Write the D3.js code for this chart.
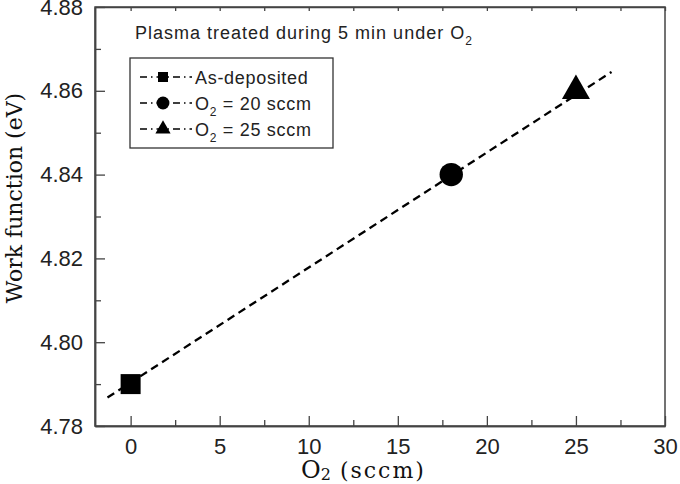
<!DOCTYPE html>
<html>
<head>
<meta charset="utf-8">
<script src="https://cdn.jsdelivr.net/npm/d3@7"></script>
<style>
  html, body { margin: 0; padding: 0; background: #fff; }
  svg { display: block; }
</style>
</head>
<body>
<svg id="chart" width="680" height="484"></svg>
<script>
// data
const o2Flow = [0, 18, 25];
const workFunction = [4.79, 4.84, 4.86];
const markerTypes = ["square", "circle", "triangle"];
// odd indexes are subscripts
const legendLabels = [["As-deposited"], ["O", "2", " = 20 sccm"], ["O", "2", " = 25 sccm"]];
const noteParts = ["Plasma treated during 5 min under O", "2"];
const fitX = [-1.3, 27];
const fitY = [4.7868, 4.8645];
const xTicks = [0, 5, 10, 15, 20, 25, 30];
const xMinorTicks = [2.5, 7.5, 12.5, 17.5, 22.5, 27.5];
const yTicks = [4.78, 4.80, 4.82, 4.84, 4.86, 4.88];
const yMinorTicks = [4.79, 4.81, 4.83, 4.85, 4.87];

const svg = d3.select("#chart");
const width = 680, height = 484;
const margin = { top: 7, right: 15, bottom: 58, left: 95 };
const innerWidth = width - margin.left - margin.right;
const innerHeight = height - margin.top - margin.bottom;

const sansFont = "'Liberation Sans', Arial, sans-serif";
const serifFont = "'DejaVu Serif', serif";

const g = svg.append("g").attr("transform", `translate(${margin.left},${margin.top})`);

const x = d3.scaleLinear().domain([-2, 30]).range([0, innerWidth]);
const y = d3.scaleLinear().domain([4.78, 4.88]).range([innerHeight, 0]);

const symbols = {
    square: d3.symbolSquare,
    circle: d3.symbolCircle,
    triangle: d3.symbolTriangle
};

// writes text pieces one after another, odd pieces lowered as subscripts
function richText(parent, x0, y0, parts, opt) {
    let cx = x0;
    parts.forEach((p, j) => {
        const sub = j % 2 === 1;
        const t = parent.append("text")
            .attr("x", cx + (opt.gaps ? opt.gaps[j] || 0 : 0))
            .attr("y", y0 + (sub ? opt.subShift : 0))
            .style("white-space", "pre")
            .style("font-family", opt.font)
            .style("font-size", (sub ? opt.subSize : (opt.sizes ? opt.sizes[j] : opt.size)) + "px")
            .style("letter-spacing", (opt.spacing ? opt.spacing[j] || 0 : opt.letterSpacing || 0) + "px")
            .attr("fill", opt.fill)
            .text(p);
        cx = +t.attr("x") + t.node().getComputedTextLength();
    });
}

// frame
g.append("rect")
    .attr("width", innerWidth)
    .attr("height", innerHeight)
    .attr("fill", "none")
    .attr("stroke", "#444")
    .attr("stroke-width", 1.5);

// bottom axis, inward ticks
const xAxis = g.append("g")
    .attr("transform", `translate(0,${innerHeight})`)
    .call(d3.axisBottom(x).tickValues(xTicks).tickSizeInner(-10).tickSizeOuter(0).tickPadding(12));
xAxis.selectAll("text")
    .style("font-family", sansFont)
    .style("font-size", "22px")
    .attr("fill", "#222");

// tick-only axes (labels dropped)
function ticksOnly(sel) { sel.selectAll("text").remove(); }

g.append("g")
    .attr("transform", `translate(0,${innerHeight})`)
    .call(d3.axisBottom(x).tickValues(xMinorTicks).tickSizeInner(-6).tickSizeOuter(0))
    .call(ticksOnly);

g.append("g")
    .call(d3.axisTop(x).tickValues(xTicks.concat(xMinorTicks)).tickSizeInner(-4).tickSizeOuter(0))
    .call(ticksOnly);

// left axis
const yAxis = g.append("g")
    .call(d3.axisLeft(y).tickValues(yTicks).tickSizeInner(-10).tickSizeOuter(0).tickPadding(12)
        .tickFormat(d3.format(".2f")));
yAxis.selectAll("text")
    .style("font-family", sansFont)
    .style("font-size", "22px")
    .attr("fill", "#222");

g.append("g")
    .call(d3.axisLeft(y).tickValues(yMinorTicks).tickSizeInner(-6).tickSizeOuter(0))
    .call(ticksOnly);

g.selectAll(".domain").attr("stroke", "#444").attr("stroke-width", 1.5);
g.selectAll(".tick line").attr("stroke", "#444").attr("stroke-width", 1.3);

// linear fit
const fitData = fitX.map((v, i) => [v, fitY[i]]);
g.append("path")
    .datum(fitData)
    .attr("fill", "none")
    .attr("stroke", "#000")
    .attr("stroke-width", 2.3)
    .attr("stroke-dasharray", "8,5")
    .attr("d", d3.line().x(d => x(d[0])).y(d => y(d[1])));

// data points
const markerSizes = { square: 400, circle: 430, triangle: 340 };
g.selectAll(".pt")
    .data(o2Flow.map((v, i) => ({ x: v, y: workFunction[i], type: markerTypes[i] })))
    .join("path")
    .attr("class", "pt")
    .attr("transform", d => `translate(${x(d.x)},${y(d.y)})`)
    .attr("d", d => d3.symbol(symbols[d.type], markerSizes[d.type])())
    .attr("fill", "#000");

// annotation
richText(g, 40, 32, noteParts, {
    font: sansFont, size: 18, subSize: 12, subShift: 6, letterSpacing: 1, fill: "#222"
});

// legend
const legend = g.append("g").attr("transform", "translate(35,51)");
legend.append("rect")
    .attr("width", 203)
    .attr("height", 90)
    .attr("fill", "#fff")
    .attr("stroke", "#333")
    .attr("stroke-width", 1.3);

const rows = legend.selectAll("g.row")
    .data(legendLabels)
    .join("g")
    .attr("class", "row")
    .attr("transform", (d, i) => `translate(0,${19 + i * 26})`);

rows.append("line")
    .attr("x1", 10).attr("x2", 62)
    .attr("stroke", "#000")
    .attr("stroke-width", 1.3)
    .attr("stroke-dasharray", "7,4,1.5,4");

const legendSizes = { square: 100, circle: 130, triangle: 100 };
rows.append("path")
    .attr("transform", "translate(33,0)")
    .attr("d", (d, i) => d3.symbol(symbols[markerTypes[i]], legendSizes[markerTypes[i]])())
    .attr("fill", "#000");

rows.each(function(parts) {
    richText(d3.select(this), 65, 7, parts, {
        font: sansFont, size: 18, subSize: 12, subShift: 6, letterSpacing: 0.7, fill: "#222"
    });
});

// axis titles
richText(svg, 301, 478, ["O", "2", "(sccm)"], {
    font: serifFont, sizes: [24, 16, 22], subSize: 16, subShift: 2,
    spacing: [0, 0, 2], gaps: [0, 0, 9], fill: "#111"
});

svg.append("text")
    .attr("transform", "translate(22,198) rotate(-90)")
    .attr("text-anchor", "middle")
    .style("font-family", serifFont)
    .style("font-size", "22px")
    .attr("fill", "#111")
    .text("Work function (eV)");
</script>
</body>
</html>
